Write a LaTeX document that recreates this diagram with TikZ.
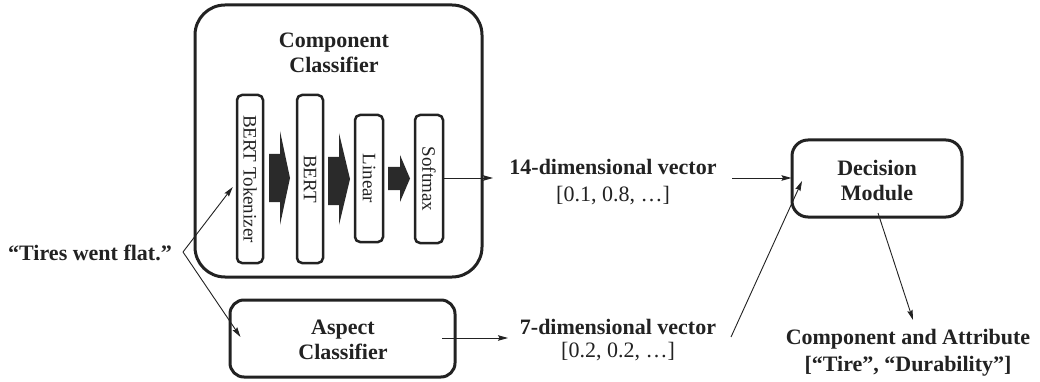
\documentclass[tikz,border=0pt]{standalone}
\usepackage{fontspec}
\setmainfont{Liberation Serif}
\usepackage{graphicx}
\usetikzlibrary{arrows.meta,calc}
\definecolor{ink}{HTML}{222222}
\definecolor{blk}{HTML}{2A2A2A}
\begin{document}
\begin{tikzpicture}[x=1pt,y=-1pt,
  btxt/.style={font=\fontsize{22}{25}\selectfont\bfseries, align=center, inner sep=0pt, text=ink},
  rtxt/.style={font=\fontsize{22}{25}\selectfont, align=center, inner sep=0pt, text=ink},
  bigbox/.style={draw=ink, line width=3pt, rounded corners=30pt, inner sep=0pt},
  midbox/.style={draw=ink, line width=3pt, rounded corners=14pt, inner sep=0pt},
  layerbox/.style={draw=ink, line width=2.5pt, rounded corners=5pt, inner sep=0pt, minimum width=26pt,
    font=\fontsize{19}{22}\selectfont, text=ink},
  blockarrow/.style={fill=blk},
  conn/.style={draw=ink, line width=0.9pt, -{Stealth[length=10pt,width=5.5pt,inset=1.5pt]}}
]
\path[use as bounding box, fill=white] (0,0) rectangle (1040,382);

% Component classifier
\node[bigbox, minimum width=287pt, minimum height=272pt] (comp) at (338.5,141) {};
\node[btxt] (comptitle) at (334,53) {Component\\Classifier};

\node[layerbox, minimum height=168pt] (tok) at (250,179) {\rotatebox{-90}{BERT Tokenizer}};
\node[layerbox, minimum height=168pt] (bert) at (310,179) {\rotatebox{-90}{BERT}};
\node[layerbox, minimum width=28pt, minimum height=127pt] (lin) at (369,178.5) {\rotatebox{-90}{Linear}};
\node[layerbox, minimum width=28pt, minimum height=128pt] (soft) at (429,179) {\rotatebox{-90}{Softmax}};

% block arrows
\fill[blockarrow] (269,154) -- (280,154) -- (280,131) -- (290,178) -- (280,225) -- (280,202) -- (269,202) -- cycle;
\fill[blockarrow] (328,157) -- (339,157) -- (339,133) -- (350,179) -- (339,225) -- (339,205) -- (328,205) -- cycle;
\fill[blockarrow] (388,167) -- (400,167) -- (400,155) -- (410,178.5) -- (400,202) -- (400,190) -- (388,190) -- cycle;

% Aspect classifier
\node[midbox, minimum width=225pt, minimum height=77pt] (asp) at (342.5,338.5) {};
\node[btxt] (asptitle) at (343,340) {Aspect\\Classifier};

% Decision module
\node[midbox, minimum width=170pt, minimum height=77pt, rounded corners=16pt] (dec) at (877,178.5) {};
\node[btxt] (dectitle) at (877,180.5) {Decision\\Module};

% input
\node[btxt] (inp) at (90,253) {“Tires went flat.”};
\coordinate (split) at (183,252);

% vectors
\node[btxt] (v14) at (613,167) {14-dimensional vector};
\node[rtxt] (v14n) at (613,196) {[0.1, 0.8, …]};
\node[btxt] (v7) at (618,327) {7-dimensional vector};
\node[rtxt] (v7n) at (618,352) {[0.2, 0.2, …]};

% output
\node[btxt] (out) at (908,339) {Component and Attribute};
\node[btxt] (outn) at (908,366) {[“Tire”, “Durability”]};

% connectors
\coordinate (tokin) at ($(tok.west)+(-3,8)$);
\coordinate (aspin) at ($(asp.west)+(12,-1.5)$);
\coordinate (v14in) at (493,178);
\coordinate (v14out) at (732,178);
\coordinate (decin) at ($(dec.west)+(1,-0.5)$);
\coordinate (v7in) at (508,338);
\coordinate (aspout) at (442,338);
\coordinate (v7out) at (731,337);
\coordinate (decin2) at (802,181);
\coordinate (decout) at (878,213);
\coordinate (outin) at (913,320);

\draw[conn] (split) -- (tokin);
\draw[conn] (split) -- (aspin);
\draw[conn] (soft.east |- v14in) -- (v14in);
\draw[conn] (aspout) -- (v7in);
\draw[conn] (v14out) -- (decin);
\draw[conn] (v7out) -- (decin2);
\draw[conn] (decout) -- (outin);
\end{tikzpicture}
\end{document}
